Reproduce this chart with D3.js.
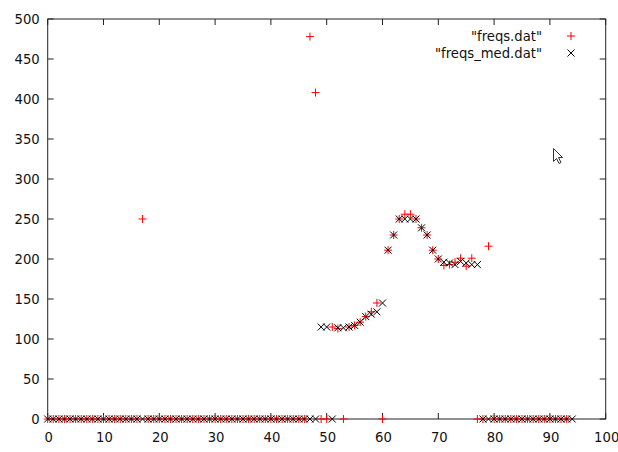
<!DOCTYPE html>
<html>
<head>
<meta charset="utf-8">
<script src="https://cdn.jsdelivr.net/npm/d3@7"></script>
<style>
  body { margin: 0; background: #fff; }
  text { font-family: "DejaVu Sans", sans-serif; font-size: 13.2px; fill: #111; }
</style>
</head>
<body>
<svg id="chart" width="618" height="452"></svg>
<script>
const LEFT = 47.7;
const RIGHT = 605.7;
const TOP = 19;
const BOTTOM = 419;
const TICK = 6;

// "freqs.dat", x = 0..93
const freqs = [
  0, 0, 0, 0, 0, 0, 0, 0, 0, 0,
  0, 0, 0, 0, 0, 0, 0, 250, 0, 0,
  0, 0, 0, 0, 0, 0, 0, 0, 0, 0,
  0, 0, 0, 0, 0, 0, 0, 0, 0, 0,
  0, 0, 0, 0, 0, 0, 0, 478, 408, 0,
  0, 115, 113, 0, 115, 117, 121, 128, 134, 145,
  0, 211, 230, 250, 256, 256, 250, 239, 230, 211,
  200, 192, 193, 196, 201, 191, 201, 0, 0, 216,
  0, 0, 0, 0, 0, 0, 0, 0, 0, 0,
  0, 0, 0, 0
];

// "freqs_med.dat", x = 0..94
const freqsMed = [
  0, 0, 0, 0, 0, 0, 0, 0, 0, 0,
  0, 0, 0, 0, 0, 0, 0, 0, 0, 0,
  0, 0, 0, 0, 0, 0, 0, 0, 0, 0,
  0, 0, 0, 0, 0, 0, 0, 0, 0, 0,
  0, 0, 0, 0, 0, 0, 0, 0, 0, 115,
  115, 0, 114, 114, 115, 117, 121, 128, 131, 134,
  145, 211, 230, 250, 250, 250, 250, 239, 230, 211,
  200, 196, 195, 193, 197, 195, 193, 193, 0, 0,
  0, 0, 0, 0, 0, 0, 0, 0, 0, 0,
  0, 0, 0, 0, 0
];

const xTicks = [0, 10, 20, 30, 40, 50, 60, 70, 80, 90, 100];
const yTicks = [0, 50, 100, 150, 200, 250, 300, 350, 400, 450, 500];
const legendLabels = ['"freqs.dat"', '"freqs_med.dat"'];

const svg = d3.select("#chart");

const xScale = d3.scaleLinear().domain([0, 100]).range([LEFT, RIGHT]);
const yScale = d3.scaleLinear().domain([0, 500]).range([BOTTOM, TOP]);

// frame with inward ticks on all four sides
const frame = svg.append("g").attr("stroke", "#222").attr("stroke-width", 1);

frame
  .append("rect")
  .attr("x", LEFT)
  .attr("y", TOP)
  .attr("width", RIGHT - LEFT)
  .attr("height", BOTTOM - TOP)
  .attr("fill", "none");

frame
  .selectAll(".xt")
  .data(xTicks)
  .enter()
  .append("path")
  .attr("d", d => `M${xScale(d)},${BOTTOM}v${-TICK}M${xScale(d)},${TOP}v${TICK}`);

frame
  .selectAll(".yt")
  .data(yTicks)
  .enter()
  .append("path")
  .attr("d", d => `M${LEFT},${yScale(d)}h${TICK}M${RIGHT},${yScale(d)}h${-TICK}`);

svg
  .selectAll(".xl")
  .data(xTicks)
  .enter()
  .append("text")
  .attr("x", d => xScale(d) + 1)
  .attr("y", BOTTOM + 23)
  .attr("text-anchor", "middle")
  .text(d => d);

svg
  .selectAll(".yl")
  .data(yTicks)
  .enter()
  .append("text")
  .attr("x", LEFT - 8)
  .attr("y", d => yScale(d))
  .attr("dy", "0.35em")
  .attr("text-anchor", "end")
  .text(d => d);

const plus = (x, y, r) => `M${x - r},${y}h${2 * r}M${x},${y - r}v${2 * r}`;
const cross = (x, y, r) => `M${x - r},${y - r}l${2 * r},${2 * r}M${x - r},${y + r}l${2 * r},${-2 * r}`;

svg
  .append("g")
  .selectAll("path")
  .data(freqs)
  .enter()
  .append("path")
  .attr("d", (d, i) => plus(xScale(i), yScale(d), 4))
  .attr("stroke", "#ff0000")
  .attr("stroke-width", 1)
  .attr("fill", "none");

svg
  .append("g")
  .selectAll("path")
  .data(freqsMed)
  .enter()
  .append("path")
  .attr("d", (d, i) => cross(xScale(i), yScale(d), 3.5))
  .attr("stroke", "#000")
  .attr("stroke-width", 1)
  .attr("fill", "none");

// legend
const legend = svg.append("g");
legendLabels.forEach((label, i) => {
  const y = 36 + i * 17;
  legend
    .append("text")
    .attr("x", 542)
    .attr("y", y)
    .attr("dy", "0.35em")
    .attr("text-anchor", "end")
    .text(label);
  legend
    .append("path")
    .attr("d", i === 0 ? plus(571, y, 4) : cross(571, y, 3.5))
    .attr("stroke", i === 0 ? "#ff0000" : "#000")
    .attr("fill", "none");
});

// mouse pointer caught in the screenshot
svg
  .append("path")
  .attr("d", "M553.5,148.5v13l3,-3l2.5,5l2,-1l-2.5,-5h4z")
  .attr("fill", "#fff")
  .attr("stroke", "#333")
  .attr("stroke-width", 1);
</script>
</body>
</html>
